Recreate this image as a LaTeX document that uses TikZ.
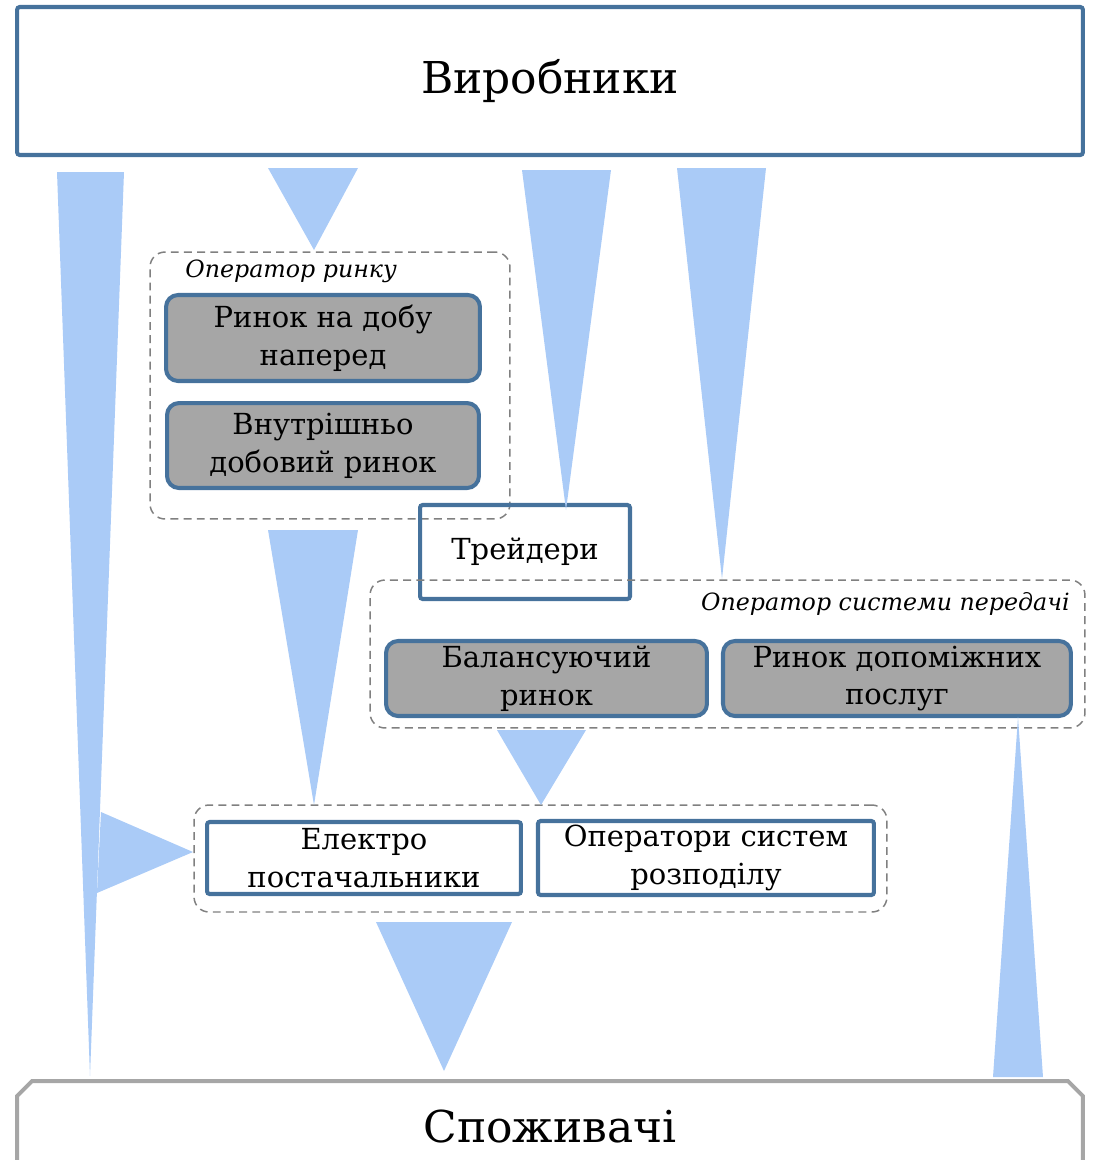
\documentclass[tikz,border=0pt]{standalone}
\usepackage{fontspec}
\setmainfont{DejaVu Serif}
\usepackage{tikz}
\usetikzlibrary{positioning}
\definecolor{boxblue}{RGB}{70,114,156}
\definecolor{flowblue}{RGB}{170,203,247}
\definecolor{mktgray}{RGB}{166,166,166}
\definecolor{grpgray}{RGB}{128,128,128}
\definecolor{endgray}{RGB}{166,166,166}

\begin{document}
\begin{tikzpicture}[x=0.02cm, y=-0.02cm,
	box/.style={rectangle,draw=boxblue,line width=2.3pt,align=center,
		rounded corners=1.5pt,inner sep=0pt,font=\fontsize{16.5}{21.5}\selectfont},
	market/.style={box,fill=mktgray,rounded corners=0.24cm},
	group/.style={rectangle,draw=grpgray,line width=0.85pt,
		dash pattern=on 4.5pt off 3pt,rounded corners=0.3cm,inner sep=0pt},
	caption/.style={inner sep=0pt,font=\fontsize{13.5}{16}\selectfont\itshape},
	flow/.style={fill=flowblue}]
	\useasboundingbox (0,0) rectangle (1095,1160);
	% ends
	\node[box,minimum width=21.32cm,minimum height=2.96cm,
		font=\fontsize{25}{30}\selectfont] (prod) at (550,81) {Виробники};
	\node[rectangle,inner sep=0pt,outer sep=0pt,
		minimum width=21.32cm,minimum height=1.8cm,
		font=\fontsize{25}{30}\selectfont] (cons) at (550,1126) {Споживачі};
	\draw[endgray,line width=2.3pt] (cons.south west)
		-- ([yshift=-0.3cm]cons.north west) -- ([xshift=0.3cm]cons.north west)
		-- ([xshift=-0.3cm]cons.north east) -- ([yshift=-0.3cm]cons.north east)
		-- (cons.south east);
	% market operator
	\node[group,minimum width=7.2cm,minimum height=5.34cm] (mo) at (330,385.5) {};
	\node[caption,anchor=base west] (molbl) at (185,277) {Оператор ринку};
	\node[market,minimum width=6.28cm,minimum height=1.72cm] (dam) at (323,338)
		{Ринок на добу\\наперед};
	\node[market,minimum width=6.24cm,minimum height=1.7cm,below=0.36cm of dam] (idm)
		{Внутрішньо\\добовий ринок};
	% traders
	\node[box,minimum width=4.2cm,minimum height=1.88cm] (trad) at (525,552) {Трейдери};
	% transmission system operator
	\node[group,minimum width=14.3cm,minimum height=2.96cm] (tso) at (727.5,654) {};
	\node[caption,anchor=base east] (tsolbl) at (1070,610) {Оператор системи передачі};
	\node[market,minimum width=6.42cm,minimum height=1.5cm] (bal) at (546.5,678.5)
		{Балансуючий\\ринок};
	\node[market,minimum width=6.96cm,minimum height=1.5cm,right=0.24cm of bal] (aux)
		{Ринок допоміжних\\послуг};
	% retail
	\node[group,minimum width=13.86cm,minimum height=2.14cm] (ret) at (540.5,858.5) {};
	\node[box,minimum width=6.28cm,minimum height=1.44cm] (supp) at (364,858)
		{Електро\\постачальники};
	\node[box,minimum width=6.72cm,minimum height=1.48cm,right=0.26cm of supp] (dso)
		{Оператори систем\\розподілу};
	% flows
	\fill[flow] (57,172) -- (124,172) -- (90,1076) -- cycle;
	\fill[flow] (101,812) -- (193,852) -- (97,893) -- cycle;
	\fill[flow] (268,168) -- (358,168) -- (314,250) -- cycle;
	\fill[flow] (522,170) -- (611,170) -- (566,510) -- cycle;
	\fill[flow] (677,168) -- (766,168) -- (722,579) -- cycle;
	\fill[flow] (268,530) -- (358,530) -- (314,805) -- cycle;
	\fill[flow] (497,730) -- (586,730) -- (541,805) -- cycle;
	\fill[flow] (376,922) -- (512,922) -- (444,1071) -- cycle;
	\fill[flow] (1018,717) -- (1043,1077) -- (993,1077) -- cycle;
\end{tikzpicture}
\end{document}
